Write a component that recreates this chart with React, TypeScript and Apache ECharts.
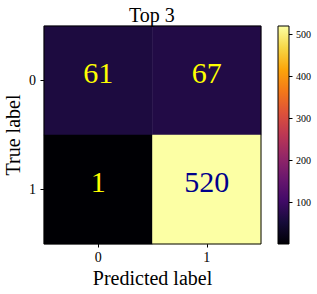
import React, { useEffect, useRef } from "react";
import * as echarts from "echarts";

const titleText = "Top 3";
const predictedLabels = ["0", "1"];
const trueLabels = ["0", "1"];
const matrix = [
  [61, 67],
  [1, 520],
];
const colorbarTicks = [100, 200, 300, 400, 500];
const vMin = 1;
const vMax = 520;

const inferno = [
  "#000004",
  "#160b39",
  "#420a68",
  "#6a176e",
  "#932667",
  "#bc3754",
  "#dd513a",
  "#f37819",
  "#fca50a",
  "#f6d746",
  "#fcffa4",
];

const FONT = "Liberation Serif";

export default function App() {
  const ref = useRef<HTMLDivElement>(null);
  useEffect(() => {
    if (!ref.current) return;
    const chart = echarts.init(ref.current, null, { renderer: "svg" });
    const threshold = (vMin + vMax) / 2;
    const data: any[] = [];
    matrix.forEach((row, ri) =>
      row.forEach((v, ci) => {
        data.push({
          value: [ci, ri, v],
          label: { color: v > threshold ? "#00008b" : "#ffff00" },
        });
      })
    );
    const stops = inferno.map((c, i) => ({ offset: i / (inferno.length - 1), color: c }));
    chart.setOption({
      animation: false,
      backgroundColor: "#ffffff",
      textStyle: { fontFamily: FONT },
      title: {
        text: titleText,
        left: 129,
        top: 5,
        padding: 0,
        textStyle: { fontFamily: FONT, fontSize: 20, fontWeight: "normal", color: "#000" },
      },
      grid: [
        {
          left: 44,
          top: 26,
          width: 217,
          height: 218,
          outerBoundsMode: "none",
          containLabel: false,
          show: true,
          z: 10,
          backgroundColor: "transparent",
          borderColor: "#000",
          borderWidth: 1,
        },
        {
          left: 278,
          top: 26,
          width: 11,
          height: 218,
          outerBoundsMode: "none",
          containLabel: false,
          show: true,
          z: 10,
          backgroundColor: "transparent",
          borderColor: "#000",
          borderWidth: 1,
        },
      ],
      xAxis: [
        {
          gridIndex: 0,
          type: "category",
          data: predictedLabels,
          name: "Predicted label",
          nameLocation: "middle",
          nameGap: 24,
          nameMoveOverlap: false,
          nameTextStyle: { fontFamily: FONT, fontSize: 20, color: "#000" },
          axisLine: { show: false },
          axisTick: { show: true, alignWithLabel: true, length: 3.5, lineStyle: { color: "#000" } },
          axisLabel: { fontFamily: FONT, fontSize: 14, color: "#000", margin: 6 },
          splitLine: { show: false },
        },
        {
          gridIndex: 1,
          type: "category",
          data: ["c"],
          show: false,
        },
      ],
      yAxis: [
        {
          gridIndex: 0,
          type: "category",
          data: trueLabels,
          inverse: true,
          name: "True label",
          nameLocation: "middle",
          nameGap: 21,
          nameMoveOverlap: false,
          nameRotate: 90,
          nameTextStyle: { fontFamily: FONT, fontSize: 20, color: "#000" },
          axisLine: { show: false },
          axisTick: { show: true, alignWithLabel: true, length: 3.5, lineStyle: { color: "#000" } },
          axisLabel: { fontFamily: FONT, fontSize: 14, color: "#000", margin: 8 },
          splitLine: { show: false },
        },
        {
          gridIndex: 1,
          type: "value",
          position: "right",
          min: vMin,
          max: vMax,
          axisLine: { show: false },
          splitLine: { show: false },
          axisTick: {
            show: true,
            length: 3.5,
            customValues: colorbarTicks,
            lineStyle: { color: "#000" },
          },
          axisLabel: {
            fontFamily: FONT,
            fontSize: 10,
            color: "#000",
            margin: 7,
            customValues: colorbarTicks,
          },
        },
      ],
      visualMap: {
        type: "continuous",
        show: false,
        min: vMin,
        max: vMax,
        seriesIndex: 0,
        inRange: { color: inferno },
      },
      series: [
        {
          type: "heatmap",
          xAxisIndex: 0,
          yAxisIndex: 0,
          data,
          label: {
            show: true,
            formatter: (p: any) => String(p.value[2]),
            fontFamily: FONT,
            fontSize: 30,
            offset: [0, -8],
          },
          emphasis: { disabled: true },
        },
        {
          type: "bar",
          xAxisIndex: 1,
          yAxisIndex: 1,
          stack: "cb",
          data: [vMin],
          barWidth: "100%",
          itemStyle: { color: "transparent" },
          silent: true,
        },
        {
          type: "bar",
          xAxisIndex: 1,
          yAxisIndex: 1,
          stack: "cb",
          data: [vMax - vMin],
          barWidth: "100%",
          itemStyle: { color: new echarts.graphic.LinearGradient(0, 1, 0, 0, stops) },
          silent: true,
        },
      ],
    });
    return () => chart.dispose();
  }, []);
  return (
    <div
      ref={ref}
      style={{ position: "absolute", left: 0, top: 0, width: 317, height: 294 }}
    />
  );
}
